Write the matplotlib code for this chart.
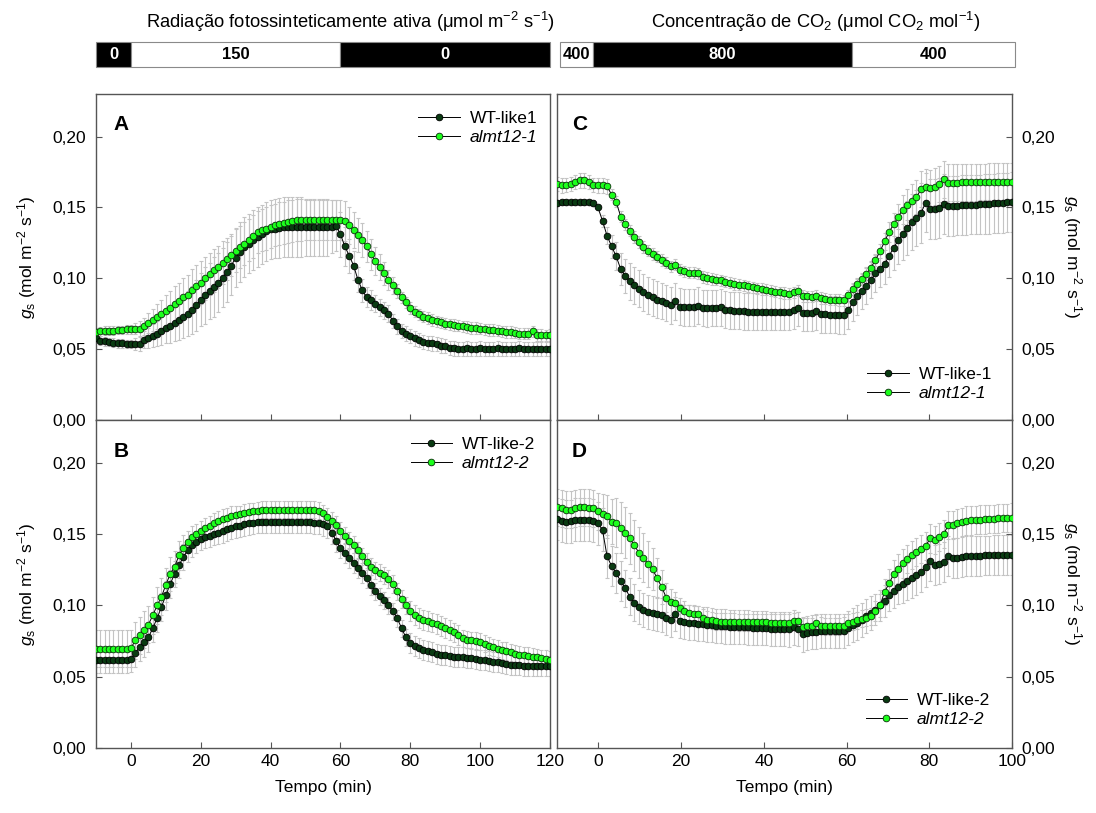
import numpy as np
import matplotlib as mpl
mpl.use('Agg')
import matplotlib.pyplot as plt
from matplotlib.ticker import FuncFormatter, MultipleLocator

plt.rcParams['font.family'] = ['Liberation Sans', 'DejaVu Sans']
plt.rcParams['mathtext.fontset'] = 'custom'
plt.rcParams['mathtext.rm'] = 'Liberation Sans'
plt.rcParams['mathtext.it'] = 'Liberation Sans:italic'
plt.rcParams['mathtext.bf'] = 'Liberation Sans:bold'

# ---- time axes (min) ----
t_light = np.arange(-10, 120.01, 1.25)   # panels A, B
t_co2 = np.arange(-10, 100.01, 1.1)      # panels C, D

# ---- panel A : light response, line 1 ----
a_wt = [0.0575, 0.056, 0.0555, 0.055, 0.0545, 0.054, 0.054, 0.0535,
        0.0535, 0.0535, 0.0535, 0.0565, 0.058, 0.0595, 0.061, 0.063,
        0.065, 0.0665, 0.0685, 0.0705, 0.073, 0.075, 0.0775, 0.081,
        0.085, 0.088, 0.091, 0.094, 0.097, 0.1005, 0.1045, 0.109,
        0.1145, 0.1185, 0.122, 0.1245, 0.127, 0.129, 0.131, 0.133,
        0.1345, 0.135, 0.1355, 0.136, 0.136, 0.136, 0.136, 0.136,
        0.136, 0.136, 0.136, 0.136, 0.136, 0.136, 0.1365, 0.137,
        0.131, 0.1225, 0.116, 0.109, 0.099, 0.0915, 0.0865, 0.0845,
        0.082, 0.0795, 0.0775, 0.075, 0.070, 0.066, 0.063, 0.061,
        0.059, 0.0575, 0.0565, 0.055, 0.0545, 0.054, 0.0535, 0.0525,
        0.052, 0.051, 0.0505, 0.050,
        0.050, 0.0505, 0.050, 0.050, 0.0505, 0.050, 0.050, 0.050, 0.0505, 0.050, 0.050,
        0.050, 0.050, 0.0505, 0.050, 0.050, 0.050, 0.050, 0.050, 0.050, 0.050]
a_wt_err = [0.003, 0.003, 0.003, 0.003, 0.003, 0.003, 0.003, 0.003,
            0.003, 0.004, 0.005, 0.006, 0.007, 0.008, 0.009, 0.010,
            0.011, 0.012, 0.013, 0.014, 0.015, 0.016, 0.017, 0.018,
            0.019, 0.020, 0.020, 0.021, 0.021, 0.021, 0.021, 0.021,
            0.021, 0.021, 0.021, 0.021, 0.021, 0.021, 0.021, 0.021,
            0.021, 0.021, 0.021, 0.021, 0.021, 0.021, 0.021, 0.021,
            0.020, 0.020, 0.020, 0.020, 0.020, 0.020, 0.019, 0.018,
            0.016, 0.014, 0.012, 0.010, 0.009, 0.008, 0.007, 0.007,
            0.006, 0.006, 0.006, 0.006, 0.005, 0.005, 0.005, 0.005,
            0.005, 0.005, 0.005, 0.005, 0.005, 0.005, 0.005, 0.005,
            0.005, 0.005, 0.005, 0.005,
            0.005, 0.005, 0.005, 0.005, 0.005, 0.005, 0.005, 0.005, 0.005, 0.005, 0.005,
            0.005, 0.005, 0.005, 0.005, 0.005, 0.005, 0.005, 0.005, 0.005, 0.005]
a_mut = [0.062, 0.0625, 0.063, 0.063, 0.063, 0.0635, 0.0635, 0.064,
         0.064, 0.0645, 0.0645, 0.066, 0.0685, 0.0705, 0.073, 0.075,
         0.077, 0.079, 0.0815, 0.084, 0.0865, 0.0885, 0.0915, 0.0945,
         0.097, 0.100, 0.103, 0.1055, 0.108, 0.111, 0.1135, 0.1165,
         0.1195, 0.122, 0.1245, 0.127, 0.1295, 0.1325, 0.134, 0.135,
         0.1365, 0.1375, 0.1385, 0.139, 0.140, 0.1405, 0.141, 0.141,
         0.141, 0.141, 0.141, 0.141, 0.141, 0.141, 0.141, 0.141,
         0.141, 0.1405, 0.1375, 0.134, 0.1305, 0.127, 0.1225, 0.117,
         0.112, 0.108, 0.1035, 0.099, 0.095, 0.091, 0.0865, 0.083,
         0.079, 0.0765, 0.0745, 0.073, 0.072, 0.0705, 0.0695, 0.069,
         0.068, 0.0675, 0.067, 0.0665,
         0.066, 0.0655, 0.065, 0.065, 0.0645, 0.064, 0.0635, 0.0635, 0.063, 0.0625, 0.062,
         0.062, 0.0615, 0.061, 0.061, 0.061, 0.0625, 0.060, 0.060, 0.0598, 0.060]
a_mut_err = [0.003, 0.003, 0.003, 0.003, 0.003, 0.003, 0.003, 0.003,
             0.003, 0.004, 0.005, 0.006, 0.007, 0.008, 0.009, 0.010,
             0.011, 0.012, 0.013, 0.013, 0.014, 0.014, 0.015, 0.015,
             0.015, 0.015, 0.015, 0.015, 0.015, 0.015, 0.015, 0.015,
             0.015, 0.015, 0.015, 0.015, 0.015, 0.015, 0.015, 0.015,
             0.015, 0.015, 0.015, 0.015, 0.015, 0.015, 0.015, 0.015,
             0.014, 0.014, 0.014, 0.014, 0.014, 0.014, 0.014, 0.014,
             0.014, 0.014, 0.013, 0.013, 0.012, 0.012, 0.011, 0.011,
             0.010, 0.009, 0.008, 0.007, 0.006, 0.005, 0.004, 0.004,
             0.004, 0.004, 0.004, 0.004, 0.004, 0.004, 0.004, 0.004,
             0.004, 0.004, 0.004, 0.004,
             0.004, 0.004, 0.004, 0.004, 0.004, 0.004, 0.004, 0.004, 0.004, 0.004, 0.004,
             0.004, 0.004, 0.004, 0.004, 0.004, 0.004, 0.004, 0.004, 0.004, 0.004]

# ---- panel B : light response, line 2 ----
b_wt = [0.0615, 0.0615, 0.0615, 0.0615, 0.0615, 0.0615, 0.0615, 0.0615,
        0.0625, 0.0665, 0.071, 0.074, 0.0775, 0.084, 0.091, 0.099,
        0.107, 0.115, 0.122, 0.128, 0.134, 0.1385, 0.142, 0.1445,
        0.1465, 0.148, 0.149, 0.150, 0.151, 0.152, 0.1535, 0.1545,
        0.1555, 0.156, 0.157, 0.1575, 0.158, 0.1585, 0.1587, 0.1587,
        0.1587, 0.1587, 0.1587, 0.1587, 0.1587, 0.1587, 0.1587, 0.1587,
        0.1587, 0.1587, 0.158, 0.158, 0.157, 0.1555, 0.151, 0.1455,
        0.140, 0.137, 0.1335, 0.130, 0.1265, 0.1225, 0.119, 0.1145,
        0.110, 0.1065, 0.1035, 0.100, 0.096, 0.091, 0.084, 0.0775,
        0.0735, 0.0715, 0.070, 0.069, 0.068, 0.067, 0.066, 0.0655,
        0.065, 0.0645, 0.064, 0.064,
        0.0635, 0.063, 0.063, 0.0625, 0.062, 0.0615, 0.061, 0.0605, 0.060, 0.0595, 0.059,
        0.0585, 0.058, 0.058, 0.0575, 0.0575, 0.0575, 0.0575, 0.0575, 0.0575, 0.0575]
b_wt_err = [0.009, 0.009, 0.009, 0.009, 0.009, 0.009, 0.009, 0.009,
            0.009, 0.010, 0.010, 0.010, 0.010, 0.010, 0.010, 0.010,
            0.010, 0.010, 0.009, 0.009, 0.009, 0.008, 0.008, 0.008,
            0.008, 0.008, 0.008, 0.008, 0.008, 0.008, 0.008, 0.008,
            0.008, 0.008, 0.008, 0.008, 0.008, 0.008, 0.008, 0.008,
            0.008, 0.008, 0.008, 0.008, 0.008, 0.008, 0.008, 0.008,
            0.008, 0.008, 0.008, 0.008, 0.008, 0.008, 0.008, 0.008,
            0.007, 0.007, 0.007, 0.007, 0.007, 0.007, 0.007, 0.007,
            0.006, 0.006, 0.006, 0.006, 0.006, 0.006, 0.006, 0.006,
            0.007, 0.007, 0.007, 0.007, 0.007, 0.007, 0.007, 0.007,
            0.007, 0.007, 0.007, 0.007,
            0.007, 0.007, 0.007, 0.007, 0.007, 0.007, 0.007, 0.007, 0.007, 0.007, 0.007,
            0.007, 0.007, 0.007, 0.007, 0.007, 0.007, 0.007, 0.007, 0.007, 0.007]
b_mut = [0.0695, 0.0695, 0.0695, 0.0695, 0.0695, 0.0695, 0.0695, 0.0695,
         0.070, 0.0755, 0.079, 0.083, 0.0865, 0.093, 0.100, 0.106,
         0.1145, 0.122, 0.127, 0.135, 0.1405, 0.1445, 0.148, 0.150,
         0.152, 0.1545, 0.156, 0.1575, 0.159, 0.1605, 0.1615, 0.1625,
         0.1635, 0.164, 0.165, 0.1655, 0.166, 0.1665, 0.167, 0.167,
         0.167, 0.167, 0.167, 0.167, 0.167, 0.167, 0.167, 0.167,
         0.167, 0.167, 0.167, 0.1665, 0.1645, 0.162, 0.1595, 0.1565,
         0.1525, 0.149, 0.1455, 0.1425, 0.1385, 0.1345, 0.1305, 0.127,
         0.1245, 0.123, 0.121, 0.1185, 0.115, 0.110, 0.1045, 0.100,
         0.096, 0.093, 0.091, 0.090, 0.089, 0.088, 0.087, 0.0855,
         0.084, 0.0825, 0.081, 0.0795,
         0.077, 0.076, 0.0755, 0.075, 0.0745, 0.073, 0.0715, 0.0705, 0.0695, 0.0685, 0.068,
         0.067, 0.066, 0.0655, 0.065, 0.0645, 0.064, 0.0635, 0.063, 0.0625, 0.062]
b_mut_err = [0.013, 0.013, 0.013, 0.013, 0.013, 0.013, 0.013, 0.013,
             0.013, 0.013, 0.013, 0.013, 0.013, 0.013, 0.013, 0.013,
             0.012, 0.012, 0.011, 0.010, 0.009, 0.008, 0.008, 0.007,
             0.007, 0.007, 0.007, 0.007, 0.007, 0.007, 0.007, 0.007,
             0.006, 0.006, 0.006, 0.006, 0.006, 0.006, 0.006, 0.006,
             0.006, 0.006, 0.006, 0.006, 0.006, 0.006, 0.006, 0.006,
             0.006, 0.006, 0.006, 0.006, 0.006, 0.006, 0.006, 0.006,
             0.006, 0.006, 0.006, 0.006, 0.006, 0.006, 0.006, 0.006,
             0.006, 0.006, 0.006, 0.006, 0.006, 0.006, 0.006, 0.006,
             0.007, 0.007, 0.007, 0.007, 0.007, 0.007, 0.007, 0.007,
             0.007, 0.007, 0.007, 0.007,
             0.006, 0.006, 0.006, 0.006, 0.006, 0.006, 0.006, 0.006, 0.006, 0.006, 0.006,
             0.006, 0.006, 0.006, 0.006, 0.006, 0.006, 0.006, 0.006, 0.006, 0.006]

# ---- panel C : CO2 response, line 1 ----
c_wt = [0.1533, 0.1535, 0.1535, 0.1535, 0.1535, 0.1535, 0.1535, 0.1535, 0.153, 0.150,
        0.1405, 0.130, 0.1225, 0.1155, 0.1065, 0.1015, 0.098, 0.095, 0.0925, 0.090,
        0.088, 0.0865, 0.085, 0.084, 0.0825, 0.081, 0.0838, 0.080, 0.0795, 0.0794,
        0.0795, 0.0805, 0.079, 0.0787, 0.079, 0.079, 0.0794, 0.0777, 0.0773, 0.077,
        0.077, 0.0768, 0.0765, 0.0763, 0.0763, 0.0763, 0.0763, 0.0763, 0.0763, 0.0763,
        0.0763, 0.0763, 0.0775, 0.079, 0.0756, 0.0755, 0.0758, 0.0768, 0.0747, 0.0745,
        0.0743, 0.0742, 0.074, 0.074, 0.0775, 0.083, 0.0872, 0.091, 0.0948, 0.099,
        0.1035, 0.1065, 0.110, 0.116, 0.1215, 0.127, 0.131, 0.1355, 0.1396, 0.1425,
        0.146, 0.1533, 0.149, 0.149, 0.1495, 0.1525, 0.151, 0.151, 0.1513, 0.1515,
        0.1518, 0.152, 0.152, 0.1522, 0.1525, 0.1525, 0.1528, 0.153, 0.1532, 0.1535,
        0.1537]
c_wt_err = [0.002, 0.002, 0.002, 0.002, 0.002, 0.002, 0.002, 0.002, 0.002, 0.002,
            0.004, 0.006, 0.008, 0.010, 0.011, 0.012, 0.013, 0.013, 0.013, 0.013,
            0.013, 0.013, 0.013, 0.013, 0.013, 0.013, 0.013, 0.013, 0.013, 0.013,
            0.013, 0.013, 0.013, 0.013, 0.013, 0.013, 0.013, 0.013, 0.013, 0.013,
            0.013, 0.013, 0.013, 0.013, 0.013, 0.013, 0.013, 0.013, 0.013, 0.013,
            0.013, 0.013, 0.013, 0.013, 0.013, 0.013, 0.013, 0.013, 0.013, 0.013,
            0.013, 0.013, 0.013, 0.013, 0.013, 0.013, 0.013, 0.013, 0.013, 0.013,
            0.013, 0.013, 0.014, 0.015, 0.016, 0.017, 0.018, 0.019, 0.020, 0.020,
            0.021, 0.021, 0.021, 0.021, 0.021, 0.021, 0.021, 0.021, 0.021, 0.021,
            0.021, 0.021, 0.021, 0.021, 0.021, 0.021, 0.021, 0.021, 0.021, 0.021,
            0.021]
c_mut = [0.1667, 0.1655, 0.166, 0.1667, 0.1678, 0.169, 0.169, 0.1678, 0.166, 0.1655,
         0.1655, 0.1648, 0.159, 0.154, 0.1435, 0.138, 0.1335, 0.129, 0.1255, 0.122,
         0.1195, 0.117, 0.1152, 0.113, 0.111, 0.1085, 0.1096, 0.106, 0.1048, 0.104,
         0.104, 0.1035, 0.101, 0.1002, 0.0995, 0.099, 0.0985, 0.0975, 0.0968, 0.096,
         0.0955, 0.095, 0.0942, 0.0935, 0.093, 0.0925, 0.092, 0.0912, 0.0905, 0.090,
         0.0895, 0.0892, 0.090, 0.0912, 0.0875, 0.0872, 0.087, 0.0878, 0.086, 0.0855,
         0.085, 0.0848, 0.0846, 0.0845, 0.088, 0.0925, 0.0958, 0.0992, 0.103, 0.1075,
         0.113, 0.119, 0.126, 0.1328, 0.138, 0.1435, 0.1485, 0.152, 0.1548, 0.157,
         0.163, 0.1643, 0.1636, 0.1645, 0.1665, 0.1697, 0.1675, 0.1673, 0.1675, 0.1676,
         0.1677, 0.1678, 0.1678, 0.1679, 0.1679, 0.168, 0.168, 0.168, 0.168, 0.168,
         0.168]
c_mut_err = [0.005, 0.005, 0.005, 0.005, 0.005, 0.005, 0.005, 0.005, 0.005, 0.005,
             0.005, 0.005, 0.004, 0.004, 0.004, 0.004, 0.004, 0.004, 0.004, 0.004,
             0.004, 0.004, 0.004, 0.004, 0.004, 0.004, 0.004, 0.004, 0.004, 0.004,
             0.004, 0.004, 0.004, 0.004, 0.004, 0.004, 0.004, 0.004, 0.004, 0.004,
             0.004, 0.004, 0.004, 0.004, 0.004, 0.004, 0.004, 0.004, 0.004, 0.004,
             0.004, 0.004, 0.004, 0.004, 0.004, 0.004, 0.004, 0.004, 0.004, 0.004,
             0.004, 0.004, 0.004, 0.004, 0.004, 0.004, 0.004, 0.004, 0.004, 0.004,
             0.004, 0.005, 0.006, 0.007, 0.008, 0.009, 0.010, 0.011, 0.012, 0.012,
             0.013, 0.013, 0.013, 0.013, 0.013, 0.013, 0.013, 0.013, 0.013, 0.013,
             0.013, 0.013, 0.013, 0.013, 0.013, 0.013, 0.013, 0.013, 0.013, 0.013,
             0.013]

# ---- panel D : CO2 response, line 2 ----
d_wt = [0.1606, 0.1595, 0.1587, 0.159, 0.1601, 0.1601, 0.1601, 0.160, 0.1595, 0.1575,
        0.153, 0.1345, 0.1275, 0.1225, 0.117, 0.112, 0.106, 0.102, 0.099, 0.0965,
        0.0955, 0.0948, 0.094, 0.093, 0.0915, 0.090, 0.0937, 0.0889, 0.0885, 0.088,
        0.0877, 0.0873, 0.087, 0.0866, 0.0862, 0.0858, 0.0854, 0.0852, 0.085, 0.0848,
        0.0847, 0.0846, 0.0845, 0.0844, 0.0843, 0.0841, 0.0839, 0.0837, 0.0835, 0.0833,
        0.0832, 0.0831, 0.0845, 0.0835, 0.0796, 0.0805, 0.0812, 0.0816, 0.0819, 0.0819,
        0.0819, 0.0819, 0.0819, 0.0819, 0.0843, 0.0862, 0.088, 0.090, 0.0925, 0.0945,
        0.097, 0.100, 0.103, 0.107, 0.110, 0.113, 0.115, 0.117, 0.119, 0.121,
        0.1235, 0.127, 0.1313, 0.1282, 0.129, 0.1305, 0.1347, 0.1335, 0.1335, 0.134,
        0.1345, 0.1347, 0.1348, 0.1349, 0.135, 0.135, 0.1351, 0.1351, 0.1352, 0.1352,
        0.1352]
d_wt_err = [0.015, 0.015, 0.015, 0.015, 0.015, 0.015, 0.015, 0.015, 0.015, 0.015,
            0.015, 0.015, 0.014, 0.014, 0.014, 0.013, 0.013, 0.013, 0.012, 0.012,
            0.012, 0.012, 0.012, 0.012, 0.012, 0.012, 0.012, 0.012, 0.012, 0.012,
            0.012, 0.012, 0.012, 0.012, 0.012, 0.012, 0.012, 0.012, 0.012, 0.012,
            0.012, 0.012, 0.012, 0.012, 0.012, 0.012, 0.012, 0.012, 0.012, 0.012,
            0.012, 0.012, 0.012, 0.012, 0.012, 0.012, 0.012, 0.012, 0.012, 0.012,
            0.012, 0.012, 0.012, 0.012, 0.012, 0.012, 0.012, 0.012, 0.012, 0.012,
            0.011, 0.011, 0.011, 0.011, 0.012, 0.012, 0.013, 0.013, 0.014, 0.014,
            0.014, 0.014, 0.014, 0.014, 0.014, 0.014, 0.014, 0.014, 0.014, 0.014,
            0.014, 0.014, 0.014, 0.014, 0.014, 0.014, 0.014, 0.014, 0.014, 0.014,
            0.014]
d_mut = [0.1688, 0.1681, 0.167, 0.1672, 0.1681, 0.1688, 0.1688, 0.1685, 0.1681, 0.166,
         0.164, 0.1625, 0.1587, 0.158, 0.1545, 0.151, 0.147, 0.142, 0.137, 0.1335,
         0.129, 0.1255, 0.119, 0.113, 0.1055, 0.1024, 0.1014, 0.098, 0.096, 0.0944,
         0.094, 0.0937, 0.0915, 0.0901, 0.0895, 0.089, 0.0886, 0.0885, 0.0884, 0.0884,
         0.0883, 0.0883, 0.0883, 0.0883, 0.0883, 0.0882, 0.0881, 0.088, 0.088, 0.0879,
         0.0878, 0.0878, 0.0888, 0.0894, 0.085, 0.0852, 0.0854, 0.0878, 0.0856, 0.0854,
         0.0854, 0.0854, 0.0854, 0.0856, 0.0878, 0.0886, 0.0895, 0.0906, 0.0915, 0.0925,
         0.0962, 0.100, 0.1095, 0.1155, 0.122, 0.1258, 0.1295, 0.1325, 0.1352, 0.1375,
         0.1395, 0.1415, 0.147, 0.146, 0.148, 0.150, 0.1564, 0.1564, 0.1575, 0.1585,
         0.1594, 0.1597, 0.160, 0.1601, 0.1603, 0.1605, 0.1607, 0.161, 0.1612, 0.1614,
         0.1615]
d_mut_err = [0.013, 0.013, 0.013, 0.013, 0.013, 0.013, 0.013, 0.013, 0.013, 0.013,
             0.014, 0.015, 0.016, 0.017, 0.018, 0.018, 0.018, 0.018, 0.018, 0.017,
             0.016, 0.015, 0.014, 0.012, 0.010, 0.009, 0.008, 0.007, 0.007, 0.006,
             0.006, 0.006, 0.006, 0.006, 0.006, 0.006, 0.006, 0.006, 0.006, 0.006,
             0.006, 0.006, 0.006, 0.006, 0.006, 0.006, 0.006, 0.006, 0.006, 0.006,
             0.006, 0.006, 0.006, 0.006, 0.006, 0.006, 0.006, 0.006, 0.006, 0.006,
             0.006, 0.006, 0.006, 0.006, 0.006, 0.006, 0.006, 0.006, 0.006, 0.006,
             0.007, 0.008, 0.009, 0.010, 0.010, 0.010, 0.010, 0.010, 0.010, 0.010,
             0.010, 0.010, 0.010, 0.010, 0.010, 0.010, 0.010, 0.010, 0.010, 0.010,
             0.010, 0.010, 0.010, 0.010, 0.010, 0.010, 0.010, 0.010, 0.010, 0.010,
             0.010]

# treatment strips
par_edges = [-10, 0, 60, 120]
par_labels = ['0', '150', '0']
par_dark = [True, False, True]
co2_edges = [-10, -2, 60.5, 100]
co2_labels = ['400', '800', '400']
co2_dark = [False, True, False]

DARK = '#0a3b12'
LIGHT = '#1cff1c'
GRAY = '#c4c4c4'
SPINE = '#555555'
FS = 12.5
MS = 4.8

W, H = 1096, 813
fig = plt.figure(figsize=(W / 100, H / 100), dpi=100)


def box(x0, y0, x1, y1):
    return [x0 / W, 1 - y1 / H, (x1 - x0) / W, (y1 - y0) / H]


axA = fig.add_axes(box(96, 94, 550, 420))
axB = fig.add_axes(box(96, 420, 550, 748))
axC = fig.add_axes(box(557, 94, 1012, 420))
axD = fig.add_axes(box(557, 420, 1012, 748))

fmt = FuncFormatter(lambda v, p: f'{v:.2f}'.replace('.', ','))


def panel(ax, t, wt, wt_err, mut, mut_err, names, letter, xmax, right, leg):
    ax.errorbar(t, wt, yerr=wt_err, fmt='none', ecolor=GRAY, elinewidth=0.8,
                capsize=1.5, capthick=0.8, zorder=1)
    ax.errorbar(t, mut, yerr=mut_err, fmt='none', ecolor=GRAY, elinewidth=0.8,
                capsize=1.5, capthick=0.8, zorder=1)
    ax.plot(t, wt, '-o', color='k', lw=0.7, ms=MS, mfc=DARK, mec='k', mew=0.6,
            label=names[0], zorder=3)
    ax.plot(t, mut, '-o', color='k', lw=0.7, ms=MS, mfc=LIGHT, mec='#0b2e0b', mew=0.6,
            label=names[1], zorder=4)
    ax.set_xlim(-10, xmax)
    ax.set_ylim(0, 0.23)
    ax.xaxis.set_major_locator(MultipleLocator(20))
    ax.yaxis.set_major_locator(MultipleLocator(0.05))
    ax.yaxis.set_major_formatter(fmt)
    for s in ax.spines.values():
        s.set_color(SPINE)
        s.set_linewidth(1.0)
    ax.tick_params(direction='in', length=4, width=0.8, color=SPINE,
                   labelsize=FS, top=False)
    ax.tick_params(axis='y', pad=7)
    ax.tick_params(axis='x', pad=4)
    if right:
        ax.yaxis.tick_right()
        ax.tick_params(axis='y', left=False, right=True)
    else:
        ax.tick_params(axis='y', right=False)
    ax.text(0.038 if not right else 0.033, 0.905, letter, transform=ax.transAxes,
            fontsize=15, fontweight='bold', ha='left', va='center')
    loc, anchor = leg
    lg = ax.legend(loc=loc, bbox_to_anchor=anchor, frameon=False, fontsize=FS,
                   handlelength=2.4, handletextpad=0.55, labelspacing=0.22,
                   borderaxespad=0, borderpad=0.4)
    lg.get_texts()[1].set_fontstyle('italic')


panel(axA, t_light, a_wt, a_wt_err, a_mut, a_mut_err, ['WT-like1', 'almt12-1'], 'A', 120,
      False, ('upper right', (1 - 6 / 454, 1 - 10 / 326)))
panel(axB, t_light, b_wt, b_wt_err, b_mut, b_mut_err, ['WT-like-2', 'almt12-2'], 'B', 120,
      False, ('upper right', (1 - 8 / 454, 1 - 10 / 328)))
panel(axC, t_co2, c_wt, c_wt_err, c_mut, c_mut_err, ['WT-like-1', 'almt12-1'], 'C', 100,
      True, ('lower right', (1 - 13 / 455, 12 / 326)))
panel(axD, t_co2, d_wt, d_wt_err, d_mut, d_mut_err, ['WT-like-2', 'almt12-2'], 'D', 100,
      True, ('lower right', (1 - 15 / 455, 14 / 328)))

axA.tick_params(labelbottom=False)
axC.tick_params(labelbottom=False)
axB.set_xlabel('Tempo (min)', fontsize=FS, labelpad=8)
axD.set_xlabel('Tempo (min)', fontsize=FS, labelpad=8)

ylab = r'$g_\mathrm{s}$ (mol m$^{-2}$ s$^{-1}$)'
fig.text(27 / W, 1 - 257 / H, ylab, rotation=90, ha='center', va='center', fontsize=FS)
fig.text(27 / W, 1 - 584 / H, ylab, rotation=90, ha='center', va='center', fontsize=FS)
fig.text(1072 / W, 1 - 257 / H, ylab, rotation=270, ha='center', va='center', fontsize=FS)
fig.text(1072 / W, 1 - 584 / H, ylab, rotation=270, ha='center', va='center', fontsize=FS)


def strip(x0, x1, lims, edges, labels, dark):
    axs = fig.add_axes(box(x0, 42, x1, 67))
    for i, lab in enumerate(labels):
        fc = 'black' if dark[i] else 'white'
        axs.barh(0, edges[i + 1] - edges[i], left=edges[i], height=1, color=fc,
                 edgecolor='#8a8a8a', linewidth=0.8, clip_on=False)
        axs.text((edges[i] + edges[i + 1]) / 2, 0, lab, ha='center', va='center',
                 color='white' if dark[i] else 'black', fontsize=12, fontweight='bold')
    axs.set_xlim(*lims)
    axs.set_ylim(-0.5, 0.5)
    axs.axis('off')


strip(96, 550, (-10, 120), par_edges, par_labels, par_dark)
strip(560, 1015, (-10, 100), co2_edges, co2_labels, co2_dark)

fig.text(350 / W, 1 - 22 / H, 'Radiação fotossinteticamente ativa (μmol m$^{-2}$ s$^{-1}$)',
         ha='center', va='center', fontsize=13.2)
fig.text(816 / W, 1 - 22 / H, 'Concentração de CO$_2$ (μmol CO$_2$ mol$^{-1}$)',
         ha='center', va='center', fontsize=13.2)

fig.savefig('out.png', dpi=100)
